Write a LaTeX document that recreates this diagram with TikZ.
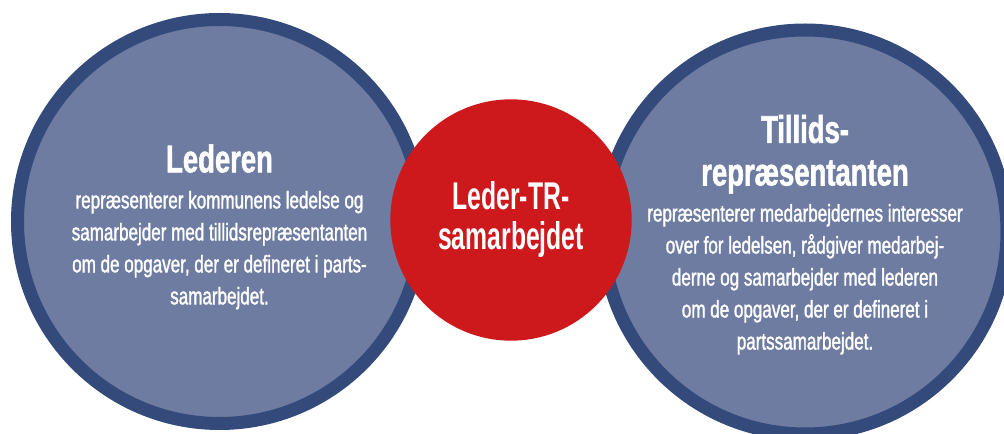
\documentclass[tikz,border=0pt]{standalone}
\usepackage{fontspec}
\setmainfont[FakeStretch=0.64]{Liberation Sans}
\newfontfamily\broedfamilie[FakeStretch=0.71,FakeBold=1.4]{Liberation Sans}
\usepackage{tikz}
\usetikzlibrary{positioning}

\definecolor{kant}{HTML}{334A7B}
\definecolor{fyld}{HTML}{6E7CA2}
\definecolor{roed}{HTML}{CD181C}

\newcommand{\titelfont}{\fontsize{29pt}{30pt}\selectfont\bfseries}
\newcommand{\broedfont}{\broedfamilie\fontsize{18pt}{24pt}\selectfont}

\begin{document}
\begin{tikzpicture}[x=0.75pt, y=-0.75pt]
	\useasboundingbox (0,0) rectangle (1004,434);
	\begin{scope}[every node/.style={circle, draw=kant, fill=fyld, line width=9.75pt,
	              inner sep=0pt, minimum size=303pt}]
		\node (leder) at (219.5,221.5) {};
		\node (tr) at (805,232) {};
	\end{scope}

	\node (samarbejde) [circle, fill=roed, inner sep=0pt, minimum size=181pt,
	                    text=white, align=center, font=\titelfont] at (511,220)
		{Leder-TR-\\samarbejdet};

	\begin{scope}[every node/.style={text=white, align=center, font=\broedfont}]
		\node (ledertekst) at ([yshift=-4pt]leder.center) {{\titelfont Lederen}\\[3pt]
			repræsenterer kommunens ledelse og\\
			samarbejder med tillidsrepræsentanten\\
			om de opgaver, der er defineret i parts-\\
			samarbejdet.};
		\node (trtekst) at ([yshift=-2pt]tr.center) {{\titelfont Tillids-}\\[8pt]
			{\titelfont repræsentanten}\\[3pt]
			repræsenterer medarbejdernes interesser\\
			over for ledelsen, rådgiver medarbej-\\
			derne og samarbejder med lederen\\
			om de opgaver, der er defineret i\\
			partssamarbejdet.};
	\end{scope}
\end{tikzpicture}
\end{document}
